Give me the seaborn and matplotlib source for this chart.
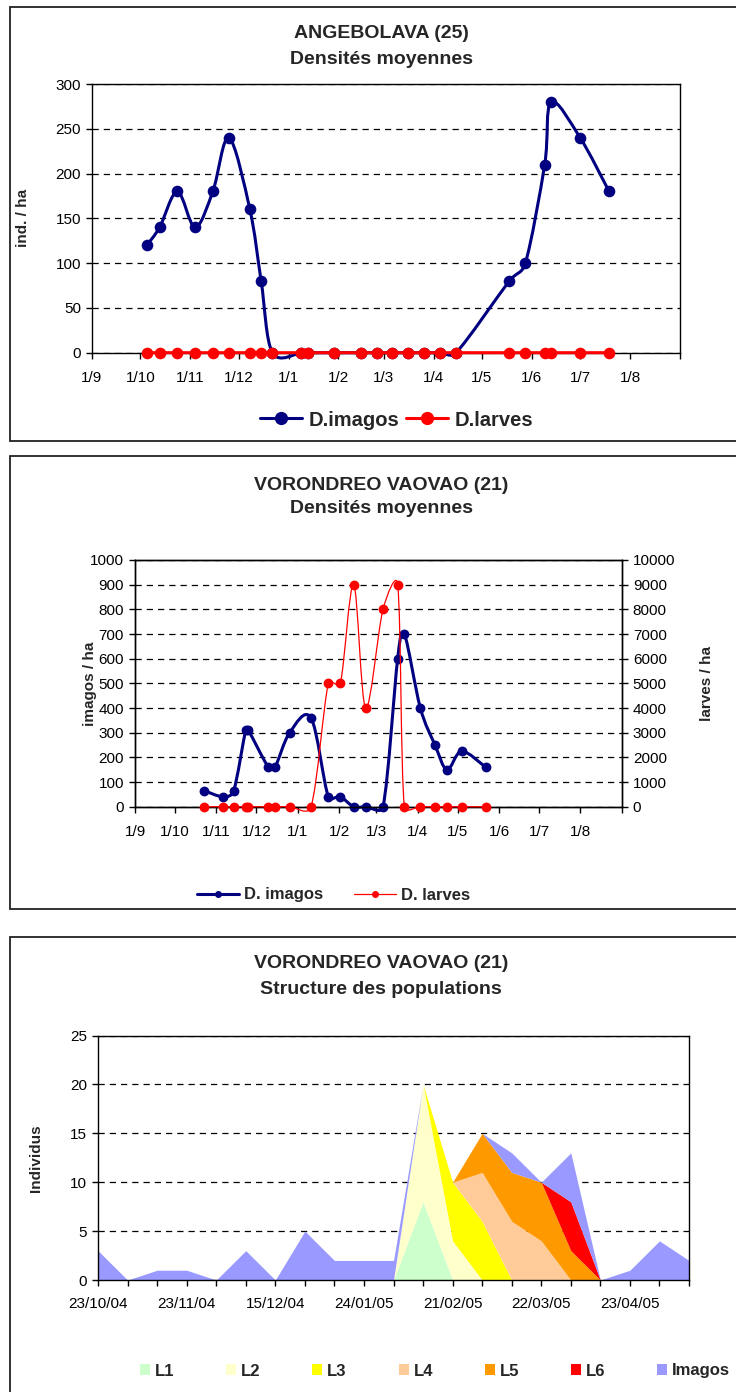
import numpy as np
import pandas as pd
import matplotlib
matplotlib.use("Agg")
import matplotlib.pyplot as plt
import matplotlib.dates as mdates
from matplotlib.path import Path
from matplotlib.patches import PathPatch, Rectangle, Patch
from matplotlib.lines import Line2D
import seaborn as sns

sns.set_theme(style="white")
plt.rcParams['font.family'] = ['Liberation Sans', 'DejaVu Sans']

# ---------------- data ----------------
# Panel 1 : ANGEBOLAVA (25)
ang_dates = ["2004-10-05", "2004-10-13", "2004-10-24", "2004-11-04", "2004-11-15",
             "2004-11-25", "2004-12-08", "2004-12-15", "2004-12-22", "2005-01-09",
             "2005-01-13", "2005-01-29", "2005-02-15", "2005-02-25", "2005-03-06",
             "2005-03-16", "2005-03-26", "2005-04-05", "2005-04-15", "2005-05-18",
             "2005-05-28", "2005-06-09", "2005-06-13", "2005-07-01", "2005-07-19"]
ang_imagos = [120, 140, 180, 140, 180, 240, 160, 80, 0, 0, 0, 0, 0, 0, 0, 0, 0, 0, 0,
              80, 100, 210, 280, 240, 180]
ang_larves = [0, 0, 0, 0, 0, 0, 0, 0, 0, 0, 0, 0, 0, 0, 0, 0, 0, 0, 0, 0, 0, 0, 0, 0, 0]

# Panel 2 & 3 : VORONDREO VAOVAO (21)
vor_dates = ["2004-10-23", "2004-11-06", "2004-11-14", "2004-11-23", "2004-11-25",
             "2004-12-10", "2004-12-15", "2004-12-26", "2005-01-11", "2005-01-24",
             "2005-02-02", "2005-02-12", "2005-02-21", "2005-03-06", "2005-03-17",
             "2005-03-22", "2005-04-03", "2005-04-14", "2005-04-23", "2005-05-04",
             "2005-05-22"]
vor_imagos = [65, 40, 65, 310, 310, 160, 160, 300, 360, 40, 40, 0, 0, 0, 600, 700,
              400, 250, 150, 225, 160]
vor_larves = [0, 0, 0, 0, 0, 0, 0, 0, 0, 5000, 5000, 9000, 4000, 8000, 9000, 0, 0,
              0, 0, 0, 0]

# Panel 3 : structure des populations (individus)
L1 = [0, 0, 0, 0, 0, 0, 0, 0, 0, 0, 0, 8, 0, 0, 0, 0, 0, 0, 0, 0, 0]
L2 = [0, 0, 0, 0, 0, 0, 0, 0, 0, 0, 0, 12, 4, 0, 0, 0, 0, 0, 0, 0, 0]
L3 = [0, 0, 0, 0, 0, 0, 0, 0, 0, 0, 0, 0, 6, 6, 0, 0, 0, 0, 0, 0, 0]
L4 = [0, 0, 0, 0, 0, 0, 0, 0, 0, 0, 0, 0, 0, 5, 6, 4, 0, 0, 0, 0, 0]
L5 = [0, 0, 0, 0, 0, 0, 0, 0, 0, 0, 0, 0, 0, 4, 5, 6, 3, 0, 0, 0, 0]
L6 = [0, 0, 0, 0, 0, 0, 0, 0, 0, 0, 0, 0, 0, 0, 0, 0, 5, 0, 0, 0, 0]
Imagos = [3, 0, 1, 1, 0, 3, 0, 5, 2, 2, 2, 0, 0, 0, 2, 0, 5, 0, 1, 4, 2]
stage_names = ["L1", "L2", "L3", "L4", "L5", "L6", "Imagos"]
stage_colors = ["#CCFFCC", "#FFFFCC", "#FFFF00", "#FFCC99", "#FF9900", "#FF0000", "#9999FF"]

NAVY = "#000080"
RED = "#FF0000"

# ---------------- helpers ----------------
W, H = 736, 1392
fig = plt.figure(figsize=(W / 100, H / 100), dpi=100)
fig.patch.set_facecolor("white")


def rect(l, t, r, b):
    return [l / W, 1 - b / H, (r - l) / W, (b - t) / H]


def panel_border(t, b):
    fig.add_artist(Rectangle((10 / W, 1 - b / H), (737 - 10) / W, (b - t) / H,
                             transform=fig.transFigure, fill=False,
                             edgecolor="#222222", linewidth=1.3))


def title(y1, y2, l1, l2):
    fig.text(381 / W, 1 - y1 / H, l1, ha="center", va="center",
             fontsize=14, fontweight="bold")
    fig.text(381 / W, 1 - y2 / H, l2, ha="center", va="center",
             fontsize=14, fontweight="bold")


def smooth_path(ax, x, y, f=1 / 6, clamp=0.5):
    """Excel-like smoothed line: Catmull-Rom Bezier in screen space, with the
    control handles limited relative to the segment length."""
    pts = ax.transData.transform(np.column_stack([np.asarray(x, float),
                                                  np.asarray(y, float)]))
    n = len(pts)
    tang = []
    for i in range(n):
        a = pts[i - 1] if i > 0 else pts[i]
        b = pts[i + 1] if i < n - 1 else pts[i]
        tang.append((b - a) * f)

    def lim(v, L):
        m = np.hypot(*v)
        return v * min(1.0, clamp * L / m) if m > 0 else v

    verts = [pts[0]]
    codes = [Path.MOVETO]
    for i in range(n - 1):
        p1, p2 = pts[i], pts[i + 1]
        L = np.hypot(*(p2 - p1))
        verts += [p1 + lim(tang[i], L), p2 - lim(tang[i + 1], L), p2]
        codes += [Path.CURVE4] * 3
    verts = ax.transData.inverted().transform(np.array(verts))
    return Path(verts, codes)


def style(ax):
    for s in ax.spines.values():
        s.set_visible(True)
        s.set_color("black")
        s.set_linewidth(1.0)
    ax.tick_params(axis="both", which="both", direction="out", length=4.5, width=1,
                   color="black", labelsize=11, labelcolor="black",
                   bottom=True, left=True)
    ax.set_axisbelow(True)
    ax.grid(axis="y", color="black", linestyle=(0, (5, 4)), linewidth=0.9)
    ax.grid(axis="x", visible=False)


months = pd.date_range("2004-09-01", "2005-09-01", freq="MS")
month_num = mdates.date2num(months)
month_lab = [f"{d.day}/{d.month}" for d in months[:-1]] + [""]


def date_axis(ax):
    ax.set_xlim(month_num[0], month_num[-1])
    ax.set_xticks(month_num)
    ax.set_xticklabels(month_lab)
    ax.tick_params(axis="x", pad=9)


# ================= Panel 1 =================
panel_border(7, 441)
title(33, 59, "ANGEBOLAVA (25)", "Densités moyennes")
ax1 = fig.add_axes(rect(92, 84, 680, 352.7))
style(ax1)
ax1.set_ylim(0, 300)
ax1.set_yticks(range(0, 301, 50))
date_axis(ax1)
x1 = mdates.date2num(pd.to_datetime(ang_dates))
ax1.add_patch(PathPatch(smooth_path(ax1, x1, ang_imagos), fc="none", ec=NAVY,
                        lw=2.2, zorder=3, clip_on=False))
sns.scatterplot(x=x1, y=ang_imagos, ax=ax1, color=NAVY, s=70, edgecolor=NAVY,
                linewidth=0, zorder=4, clip_on=False)
ax1.add_patch(PathPatch(smooth_path(ax1, x1, ang_larves), fc="none", ec=RED,
                        lw=2.2, zorder=5, clip_on=False))
sns.scatterplot(x=x1, y=ang_larves, ax=ax1, color=RED, s=70, edgecolor=RED,
                linewidth=0, zorder=6, clip_on=False)
ax1.set_ylim(0, 300)
date_axis(ax1)
ax1.set_ylabel("ind. / ha", fontsize=11, fontweight="bold")
ax1.yaxis.set_label_coords(-0.105, 0.5)
ax1.set_xlabel("")
h1 = [Line2D([], [], color=NAVY, lw=2.2, marker="o", ms=8.5),
      Line2D([], [], color=RED, lw=2.2, marker="o", ms=8.5)]
fig.legend(h1, ["D.imagos", "D.larves"], loc="center left",
           bbox_to_anchor=(260 / W, 1 - 420 / H), ncol=2, frameon=False,
           prop={"weight": "bold", "size": 14.5}, handlelength=2.1,
           handletextpad=0.3, columnspacing=0.35, borderpad=0, borderaxespad=0)

# ================= Panel 2 =================
panel_border(456, 909)
title(485, 508, "VORONDREO VAOVAO (21)", "Densités moyennes")
ax2 = fig.add_axes(rect(135, 560, 621.7, 806.7))
style(ax2)
ax2.set_ylim(0, 1000)
ax2.set_yticks(range(0, 1001, 100))
date_axis(ax2)
x2 = mdates.date2num(pd.to_datetime(vor_dates))
ax2.add_patch(PathPatch(smooth_path(ax2, x2, vor_imagos), fc="none", ec=NAVY,
                        lw=2.2, zorder=3, clip_on=False))
sns.scatterplot(x=x2, y=vor_imagos, ax=ax2, color=NAVY, s=50, edgecolor=NAVY,
                linewidth=0, zorder=4, clip_on=False)
ax2.set_ylim(0, 1000)
date_axis(ax2)
ax2.set_ylabel("imagos / ha", fontsize=11, fontweight="bold")
ax2.yaxis.set_label_coords(-0.078, 0.5)
ax2r = ax2.twinx()
ax2r.set_ylim(0, 10000)
ax2r.set_yticks(range(0, 10001, 1000))
ax2r.set_xlim(month_num[0], month_num[-1])
ax2r.add_patch(PathPatch(smooth_path(ax2r, x2, vor_larves), fc="none", ec=RED,
                         lw=0.9, zorder=3, clip_on=False))
sns.scatterplot(x=x2, y=vor_larves, ax=ax2r, color=RED, s=50, edgecolor=RED,
                linewidth=0, zorder=4, clip_on=False)
ax2r.set_ylim(0, 10000)
ax2r.set_xlim(month_num[0], month_num[-1])
for s in ax2r.spines.values():
    s.set_color("black")
    s.set_linewidth(1.0)
ax2r.tick_params(axis="y", direction="out", length=4.5, width=1, color="black",
                 labelsize=11, labelcolor="black", right=True)
ax2r.grid(False)
ax2r.set_ylabel("larves / ha", fontsize=11, fontweight="bold")
ax2r.yaxis.set_label_coords(1.16, 0.5)
h2 = [Line2D([], [], color=NAVY, lw=2.2, marker="o", ms=4),
      Line2D([], [], color=RED, lw=0.9, marker="o", ms=4)]
fig.legend(h2, ["D. imagos", "D. larves"], loc="center left",
           bbox_to_anchor=(197 / W, 1 - 895 / H), ncol=2, frameon=False,
           prop={"weight": "bold", "size": 12}, handlelength=2.5,
           handletextpad=0.3, columnspacing=1.9, borderpad=0, borderaxespad=0)

# ================= Panel 3 =================
panel_border(937, 1395)
title(963, 990, "VORONDREO VAOVAO (21)", "Structure des populations")
ax3 = fig.add_axes(rect(98, 1035.5, 689, 1280))
style(ax3)
xc = np.arange(len(vor_dates))
ax3.stackplot(xc, L1, L2, L3, L4, L5, L6, Imagos, colors=stage_colors,
              linewidth=0, zorder=2)
ax3.set_xlim(0, len(vor_dates) - 1)
ax3.set_ylim(0, 25)
ax3.set_yticks(range(0, 26, 5))
cat_labels = [f"{d:%d/%m/%y}" for d in pd.to_datetime(vor_dates)]
ax3.set_xticks(xc)
ax3.set_xticklabels([lab if i % 3 == 0 else "" for i, lab in enumerate(cat_labels)])
ax3.tick_params(axis="x", pad=8)
ax3.set_ylabel("Individus", fontsize=11, fontweight="bold")
ax3.yaxis.set_label_coords(-0.093, 0.5)
h3 = [Patch(facecolor=c, edgecolor="none") for c in stage_colors]
fig.legend(h3, stage_names, loc="center left",
           bbox_to_anchor=(140 / W, 1 - 1371 / H), ncol=7, frameon=False,
           prop={"weight": "bold", "size": 12}, handlelength=0.6, handleheight=0.6,
           handletextpad=0.3, columnspacing=3.1, borderpad=0, borderaxespad=0)

fig.savefig("out.png", dpi=100)
